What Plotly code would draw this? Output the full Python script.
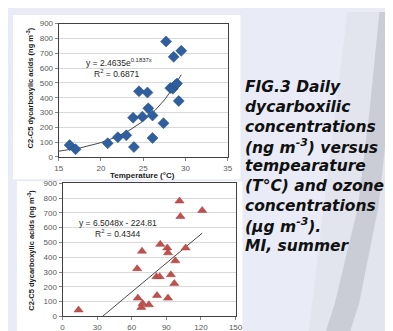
import numpy as np
import plotly.graph_objects as go

# ---------------- data ----------------
temperature = [16.3, 17.0, 20.8, 22.0, 23.0, 23.8, 23.9, 24.5, 24.9, 25.5, 25.6,
               26.1, 26.1, 27.4, 27.7, 28.2, 28.5, 28.6, 28.8, 29.0, 29.2, 29.5]
conc_vs_temp = [80, 52, 93, 133, 146, 265, 67, 443, 272, 435, 328,
                280, 128, 228, 780, 465, 461, 676, 485, 496, 378, 717]

ozone = [13.9, 64.7, 65.3, 68.9, 68.3, 69.4, 74.9, 81.4, 84.2, 81.9, 84.7,
         90.8, 91.4, 91.4, 93.9, 96.9, 97.8, 101.4, 102.2, 106.7, 121.1]
conc_vs_ozone = [44, 323, 124, 441, 61, 87, 79, 269, 269, 142, 487,
                 463, 430, 124, 282, 223, 376, 780, 675, 463, 716]

exp_a, exp_b = 2.4635, 0.1837
exp_range = [15, 29.5]
lin_m, lin_c = 6.5048, -224.81

temp_ticks = [15, 20, 25, 30, 35]
ozone_ticks = [0, 30, 60, 90, 120, 150]
conc_ticks = [0, 100, 200, 300, 400, 500, 600, 700, 800, 900]

ytitle = "C2-C5 dycarboxylic acids (ng m<sup>-3</sup>)"
caption_lines = ["FIG.3 Daily", "dycarboxilic", "concentrations",
                 "(ng m<sup>-3</sup>) versus", "tempearature", "(T°C) and ozone",
                 "concentrations", "(µg m<sup>-3</sup>).", "MI, summer"]

W, H = 393, 331
def px(x): return x / W
def py(y): return 1 - y / H

fig = go.Figure()

# trendlines
xt = np.linspace(exp_range[0], exp_range[1], 80)
fig.add_trace(go.Scatter(x=xt, y=exp_a * np.exp(exp_b * xt), mode="lines",
                         line=dict(color="#1a1a1a", width=0.8), xaxis="x", yaxis="y",
                         showlegend=False, hoverinfo="skip"))
xo = np.array([-lin_c / lin_m, max(ozone)])
fig.add_trace(go.Scatter(x=xo, y=lin_m * xo + lin_c, mode="lines",
                         line=dict(color="#1a1a1a", width=0.8), xaxis="x2", yaxis="y2",
                         showlegend=False, hoverinfo="skip"))

# points
fig.add_trace(go.Scatter(x=temperature, y=conc_vs_temp, mode="markers",
                         marker=dict(symbol="diamond", size=8.5, color="#2f5f9e",
                                     line=dict(color="#244c80", width=0.5)),
                         xaxis="x", yaxis="y", showlegend=False))
fig.add_trace(go.Scatter(x=ozone, y=conc_vs_ozone, mode="markers",
                         marker=dict(symbol="triangle-up", size=8, color="#c0504d",
                                     line=dict(color="#a33f3c", width=0.5)),
                         xaxis="x2", yaxis="y2", showlegend=False))

tickfont = dict(family="Liberation Sans", size=8, color="#595959")
common_x = dict(showgrid=False, zeroline=False, showline=True, linecolor="#404040",
                linewidth=1, mirror=True, ticks="outside", ticklen=3, tickcolor="#868686",
                tickfont=tickfont)
common_y = dict(showgrid=True, gridcolor="#d9d9d9", gridwidth=1, zeroline=False,
                showline=True, linecolor="#404040", linewidth=1, mirror=True,
                ticks="outside", ticklen=3, tickcolor="#868686", tickfont=tickfont,
                range=[0, 900], tickvals=conc_ticks)

fig.update_layout(
    width=W, height=H, margin=dict(l=0, r=0, t=0, b=0),
    paper_bgcolor="#e9ecf6", plot_bgcolor="white",
    xaxis=dict(domain=[px(48), px(222)], range=[15, 35], tickvals=temp_ticks,
               anchor="y", **common_x),
    yaxis=dict(domain=[py(149), py(12)], anchor="x", **common_y),
    xaxis2=dict(domain=[px(52), px(230)], range=[0, 150], tickvals=ozone_ticks,
                anchor="y2", **common_x),
    yaxis2=dict(domain=[py(313), py(176)], anchor="x2", **common_y),
)

shapes = [
    # brush strokes on the right
    dict(type="path", xref="paper", yref="paper", layer="below",
         path=f"M {px(345)},{py(0)} L {px(393)},{py(0)} L {px(393)},{py(331)} L {px(305)},{py(331)} Z",
         fillcolor="#d4d5dc", opacity=0.3, line=dict(width=0)),
    dict(type="path", xref="paper", yref="paper", layer="below",
         path=f"M {px(378)},{py(0)} L {px(393)},{py(0)} L {px(388)},{py(100)} L {px(377)},{py(200)} "
              f"L {px(357)},{py(300)} L {px(347)},{py(331)} L {px(322)},{py(331)} L {px(332)},{py(300)} "
              f"L {px(356)},{py(200)} L {px(368)},{py(100)} Z",
         fillcolor="#b4b6be", opacity=0.5, line=dict(width=0)),
    # chart backgrounds
    dict(type="rect", xref="paper", yref="paper", layer="below",
         x0=px(1), x1=px(235), y0=py(172), y1=py(3), fillcolor="white", line=dict(width=0)),
    dict(type="rect", xref="paper", yref="paper", layer="below",
         x0=px(5), x1=px(237), y0=py(331), y1=py(174), fillcolor="white", line=dict(width=0)),
]
fig.update_layout(shapes=shapes)

ann = []
def add(x, y, text, font, **kw):
    d = dict(x=px(x), y=py(y), xref="paper", yref="paper", showarrow=False,
             text=text, font=font, xanchor="center", yanchor="middle")
    d.update(kw)
    ann.append(d)

eqfont = dict(family="Liberation Sans", size=8.5, color="#262626")
add(110, 52, f"y = {exp_a}e<sup>{exp_b}x</sup>", eqfont)
add(108, 63, "R<sup>2</sup> = 0.6871", eqfont)
add(109, 217, f"y = {lin_m}x - {abs(lin_c)}", eqfont)
add(109, 228, "R<sup>2</sup> = 0.4344", eqfont)

titlefont = dict(family="Liberation Sans", size=7.5, color="#1a1a1a")
add(18, 78, f"<b>{ytitle}</b>", titlefont, textangle=-90)
add(20, 245, f"<b>{ytitle}</b>", titlefont, textangle=-90)
add(134, 168, "<b>Temperature (°C)</b>", dict(family="Liberation Sans", size=8, color="#1a1a1a"))
add(141, 326, "<b>O<sub>3</sub> concentrations (µg m<sup>-3</sup>)</b>",
    dict(family="Liberation Sans", size=8, color="#1a1a1a"), yanchor="top")

capfont = dict(family="DejaVu Sans", size=15.5, color="#111111")
for i, line in enumerate(caption_lines):
    add(238, 77 + 20.4 * i, f"<b><i>{line}</i></b>", capfont, xanchor="left")
fig.update_layout(annotations=ann)

fig.write_html("out.html")
